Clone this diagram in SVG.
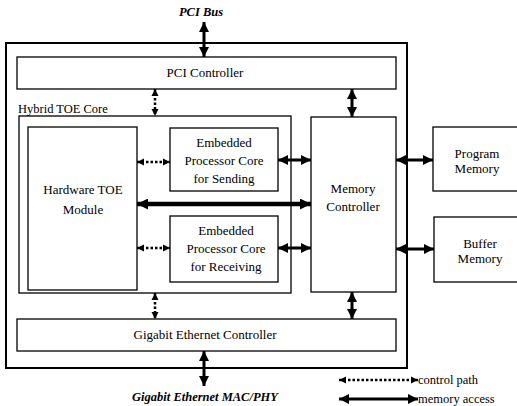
<svg xmlns="http://www.w3.org/2000/svg" width="517" height="406" viewBox="0 0 517 406" font-family="Liberation Serif, Times New Roman, serif">
<style>
.box{fill:#fff;stroke:#000;stroke-width:1.3}
.outer{fill:#fff;stroke:#000;stroke-width:2}
.t{font-size:13px;fill:#000;text-anchor:middle}
.ti{font-size:12.5px;font-weight:bold;font-style:italic;fill:#000;text-anchor:middle}
.tl{font-size:12.5px;fill:#000}
.mem{stroke:#000;stroke-width:3;fill:none;marker-start:url(#ah);marker-end:url(#ah)}
.memb{stroke:#000;stroke-width:4.5;fill:none;marker-start:url(#ahb);marker-end:url(#ahb)}
.ctl{stroke:#000;stroke-width:2.5;stroke-dasharray:2.5 2;fill:none;marker-start:url(#ahs);marker-end:url(#ahs)}
</style>
<defs>
<marker id="ah" markerUnits="userSpaceOnUse" viewBox="0 0 10 10" refX="10" refY="5" markerWidth="10" markerHeight="10" orient="auto-start-reverse"><path d="M0,0 L10,5 L0,10 z" fill="#000"/></marker>
<marker id="ahb" markerUnits="userSpaceOnUse" viewBox="0 0 10 10" refX="10" refY="5" markerWidth="11" markerHeight="11" orient="auto-start-reverse"><path d="M0,0 L10,5 L0,10 z" fill="#000"/></marker>
<marker id="ahs" markerUnits="userSpaceOnUse" viewBox="0 0 10 10" refX="10" refY="5" markerWidth="7" markerHeight="8" orient="auto-start-reverse"><path d="M0,0 L10,5 L0,10 z" fill="#000"/></marker>
</defs>

<g id="outer"><rect class="outer" x="6" y="43" width="401" height="325"/></g>
<g id="pci-bus-label"><text class="ti" x="201" y="16">PCI Bus</text></g>
<g id="pci-controller"><rect class="box" x="17" y="57" width="379" height="32"/><text class="t" x="205" y="77">PCI Controller</text></g>
<g id="hybrid-toe-core"><rect class="box" x="19" y="116" width="272" height="177"/><text class="tl" x="18" y="113">Hybrid TOE Core</text></g>
<g id="hardware-toe"><rect class="box" x="28" y="127" width="109" height="163"/><text class="t" x="83" y="194">Hardware TOE</text><text class="t" x="83" y="214">Module</text></g>
<g id="ep-sending"><rect class="box" x="170" y="128" width="108" height="63"/><text class="t" x="224" y="147">Embedded</text><text class="t" x="224" y="165">Processor Core</text><text class="t" x="224" y="183">for Sending</text></g>
<g id="ep-receiving"><rect class="box" x="170" y="216" width="108" height="66"/><text class="t" x="226" y="235">Embedded</text><text class="t" x="226" y="253">Processor Core</text><text class="t" x="226" y="271">for Receiving</text></g>
<g id="memory-controller"><rect class="box" x="311" y="117" width="85" height="175"/><text class="t" x="353" y="193">Memory</text><text class="t" x="353" y="211">Controller</text></g>
<g id="program-memory"><rect class="box" x="433" y="127" width="90" height="64"/><text class="t" x="477" y="158">Program</text><text class="t" x="477" y="173">Memory</text></g>
<g id="buffer-memory"><rect class="box" x="434" y="217" width="90" height="65"/><text class="t" x="480" y="248">Buffer</text><text class="t" x="480" y="263">Memory</text></g>
<g id="gigabit-controller"><rect class="box" x="17" y="319" width="379" height="32"/><text class="t" x="205" y="339">Gigabit Ethernet Controller</text></g>
<g id="mac-phy-label"><text class="ti" x="205" y="401">Gigabit Ethernet MAC/PHY</text></g>

<g id="connectors">
<line class="mem" x1="204" y1="22" x2="204" y2="57"/>
<line class="ctl" x1="155" y1="89" x2="155" y2="116"/>
<line class="mem" x1="352" y1="89" x2="352" y2="117"/>
<line class="ctl" x1="137" y1="162" x2="170" y2="162"/>
<line class="memb" x1="137" y1="204" x2="311" y2="204"/>
<line class="ctl" x1="137" y1="248" x2="170" y2="248"/>
<line class="mem" x1="278" y1="160" x2="311" y2="160"/>
<line class="mem" x1="278" y1="248" x2="311" y2="248"/>
<line class="mem" x1="396" y1="160" x2="433" y2="160"/>
<line class="mem" x1="396" y1="249" x2="434" y2="249"/>
<line class="ctl" x1="155" y1="293" x2="155" y2="319"/>
<line class="mem" x1="352" y1="292" x2="352" y2="319"/>
<line class="mem" x1="204" y1="351" x2="204" y2="386"/>
</g>
<g id="legend">
<line class="ctl" x1="339" y1="380" x2="418" y2="380"/>
<text class="tl" x="418" y="384">control path</text>
<line class="mem" x1="339" y1="399" x2="418" y2="399"/>
<text class="tl" x="418" y="403">memory access</text>
</g>
</svg>
